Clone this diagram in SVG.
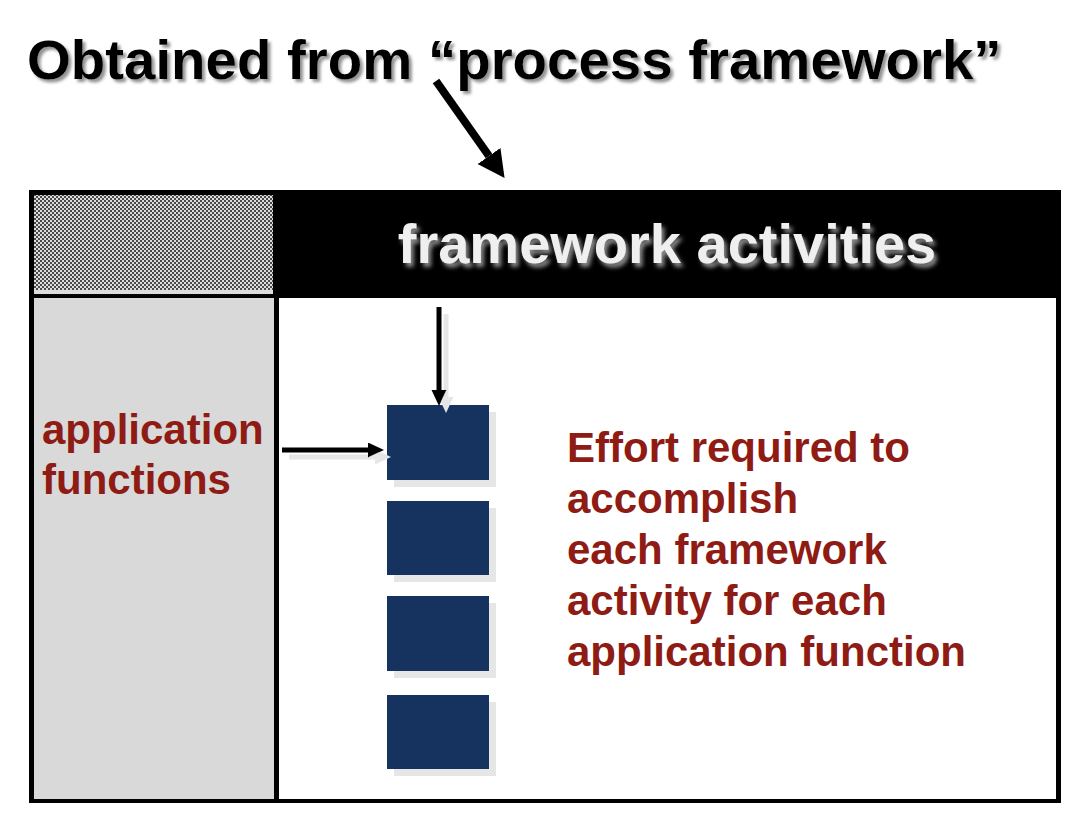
<svg xmlns="http://www.w3.org/2000/svg" width="1088" height="828" viewBox="0 0 1088 828">
  <defs>
    <style>
      .t { font-family: "Liberation Sans", Arial, Helvetica, sans-serif; font-weight: bold; }
      .red { fill: #8E1B14; font-size: 42px; }
      .box { fill: #14325F; }
      .conn { stroke: #000; fill: none; }
    </style>
    <pattern id="checker" patternUnits="userSpaceOnUse" width="4" height="4">
      <rect width="4" height="4" fill="#dcdcdc"/>
      <rect width="2" height="2" fill="#4a4a4a"/>
      <rect x="2" y="2" width="2" height="2" fill="#4a4a4a"/>
    </pattern>
    <filter id="sh" filterUnits="userSpaceOnUse" x="0" y="0" width="1088" height="828">
      <feDropShadow dx="7" dy="7" stdDeviation="0" flood-color="#e6e6e6" flood-opacity="1"/>
    </filter>
    <filter id="tsh" filterUnits="userSpaceOnUse" x="0" y="0" width="1088" height="828">
      <feDropShadow dx="3" dy="3" stdDeviation="1.5" flood-color="#777" flood-opacity="0.8"/>
    </filter>
    <filter id="wsh" filterUnits="userSpaceOnUse" x="0" y="0" width="1088" height="828">
      <feDropShadow dx="3" dy="4" stdDeviation="2" flood-color="#8a8a8a" flood-opacity="1"/>
    </filter>
    <marker id="ah" markerUnits="userSpaceOnUse" markerWidth="17" markerHeight="16" refX="0" refY="7.5" orient="auto">
      <path d="M0,0 L16,7.5 L0,15 Z" fill="#000"/>
    </marker>
    <marker id="ahBig" markerUnits="userSpaceOnUse" markerWidth="30" markerHeight="30" refX="0" refY="14" orient="auto">
      <path d="M0,0 L27,14 L0,28 Z" fill="#000"/>
    </marker>
  </defs>

  <rect width="1088" height="828" fill="#fff"/>

  <g id="title">
    <text class="t" x="27" y="79" font-size="56.4" fill="#000" filter="url(#tsh)">Obtained from “process framework”</text>
  </g>

  <g id="frame">
    <rect x="29" y="190" width="1032" height="613" fill="#000"/>
    <rect x="279" y="298" width="777" height="501" fill="#fff"/>
  </g>

  <g id="header-corner">
    <rect x="34" y="195" width="239" height="95" fill="url(#checker)"/>
    <rect x="34" y="290" width="239" height="4" fill="#dcdcdc"/>
  </g>

  <g id="framework-activities">
    <text class="t" x="667" y="263" font-size="56" fill="#efefef" text-anchor="middle" filter="url(#wsh)">framework activities</text>
  </g>

  <g id="application-functions">
    <rect x="34" y="298" width="240" height="501" fill="#d9d9d9"/>
    <text class="t red" x="42" y="444">application</text>
    <text class="t red" x="42" y="494">functions</text>
  </g>

  <g id="cells" filter="url(#sh)">
    <rect id="cell1" class="box" x="387" y="405" width="102" height="75"/>
    <rect id="cell2" class="box" x="387" y="501" width="102" height="74"/>
    <rect id="cell3" class="box" x="387" y="596" width="102" height="75"/>
    <rect id="cell4" class="box" x="387" y="695" width="102" height="74"/>
  </g>

  <g id="effort-text">
    <text class="t red" x="567" y="462">Effort required to</text>
    <text class="t red" x="567" y="513">accomplish</text>
    <text class="t red" x="567" y="564">each framework</text>
    <text class="t red" x="567" y="615">activity for each</text>
    <text class="t red" x="567" y="666">application function</text>
  </g>

  <g id="connectors">
    <line class="conn" x1="436" y1="81" x2="489" y2="156" stroke-width="8" marker-end="url(#ahBig)"/>
    <g filter="url(#sh)">
      <line class="conn" x1="439" y1="307" x2="439" y2="390" stroke-width="5" marker-end="url(#ah)"/>
      <line class="conn" x1="282" y1="450" x2="368" y2="450" stroke-width="5" marker-end="url(#ah)"/>
    </g>
  </g>
</svg>
